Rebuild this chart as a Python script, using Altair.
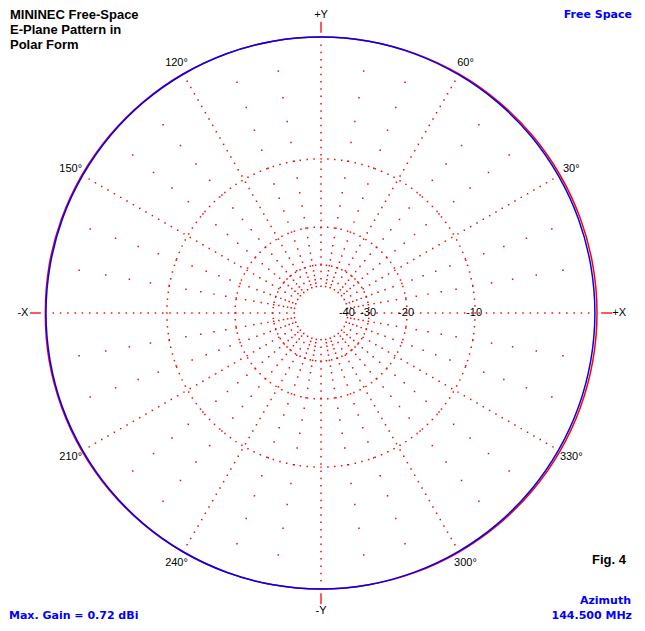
import altair as alt
import pandas as pd
import numpy as np

# ---------------- data ----------------
angles_deg = [0, 10, 20, 30, 40, 50, 60, 70, 80, 90, 100, 110, 120, 130, 140, 150, 160, 170,
              180, 190, 200, 210, 220, 230, 240, 250, 260, 270, 280, 290, 300, 310, 320, 330, 340, 350]
# outer (red) trace, dB relative to max gain
red_db = [0.00, 0.00, 0.00, 0.00, 0.00, 0.00, 0.00, 0.00, 0.00, 0.00, 0.00, 0.00,
          0.00, 0.00, 0.00, 0.00, 0.00, 0.00, -0.02, 0.00, 0.00, 0.00, 0.00, 0.00,
          0.00, 0.00, 0.00, 0.00, 0.00, 0.00, 0.00, 0.00, 0.00, 0.00, 0.00, 0.00]
# inner (blue) trace, dB relative to max gain
blue_db = [-0.13, -0.13, -0.12, -0.11, -0.09, -0.07, -0.05, -0.03, -0.01, 0.00, 0.00, -0.01,
           -0.02, -0.03, -0.04, -0.05, -0.05, -0.06, -0.06, -0.06, -0.05, -0.05, -0.04, -0.03,
           -0.02, -0.01, 0.00, 0.00, -0.01, -0.03, -0.05, -0.07, -0.09, -0.11, -0.12, -0.13]

ring_db = [-10, -20, -30, -40]
ring_txt = ["-10", "-20", "-30", "-40"]
ring_dots = [140, 80, 56, 36]

angle_label_deg = [30, 60, 120, 150, 210, 240, 300, 330]
angle_label_txt = ["30°", "60°", "120°", "150°", "210°", "240°", "300°", "330°"]
axis_label_deg = [0, 90, 180, 270]
axis_label_txt = ["+X", "+Y", "-X", "-Y"]

title_lines = ["MININEC Free-Space", "E-Plane Pattern in", "Polar Form"]
top_right_txt = "Free Space"
fig_txt = "Fig. 4"
gain_txt = "Max. Gain = 0.72 dBi"
right_bottom_lines = ["Azimuth", "144.500 MHz"]

# ---------------- layout ----------------
W, H = 629, 615
R = 276.0
CX, CY = 313.0, 305.0
xdom = [-CX / R, (W - CX) / R]
ydom = [-(H - CY) / R, CY / R]


def arrl(db):
    return 0.89 ** (-db / 2.0)


# grid dots (normalised radius r, angle ang)
rows = []
for db, n in zip(ring_db, ring_dots):
    for k in range(n):
        rows.append({"ang": k * 360.0 / n, "r": arrl(db)})
r0 = arrl(-40)
step = 7.3 / R
for a in range(0, 360, 30):
    k = 1
    while r0 + k * step < 0.995:
        rows.append({"ang": a, "r": r0 + k * step})
        k += 1
for a in range(0, 360, 10):
    if a % 30 == 0:
        continue
    for db in range(-2, -40, -2):
        rows.append({"ang": a, "r": arrl(db)})
grid_df = pd.DataFrame(rows)

pat_df = pd.DataFrame({"ang": angles_deg * 2,
                       "db": red_db + blue_db,
                       "trace": ["red"] * len(angles_deg) + ["blue"] * len(angles_deg)})

xs = alt.Scale(domain=xdom, nice=False, zero=False)
ys = alt.Scale(domain=ydom, nice=False, zero=False)
X = alt.X("x:Q", scale=xs, axis=None)
Y = alt.Y("y:Q", scale=ys, axis=None)

XY_CALC = dict(x="datum.r*cos(datum.ang*PI/180)", y="datum.r*sin(datum.ang*PI/180)")

grid = alt.Chart(grid_df).transform_calculate(**XY_CALC).mark_square(
    size=2.2, color="#ff0000", opacity=1, filled=True
).encode(x=X, y=Y)


def trace(color):
    return alt.Chart(pat_df).transform_filter(
        alt.datum.trace == color
    ).transform_calculate(
        r="pow(0.89, -datum.db/2)"
    ).transform_calculate(**XY_CALC).mark_line(
        interpolate="cardinal-closed", color="#ff0000" if color == "red" else "#0000ff",
        strokeWidth=1.5
    ).encode(x=X, y=Y, order="ang:Q")


red_line = trace("red")
blue_line = trace("blue")

stub_df = pd.DataFrame({"ang": axis_label_deg})
stubs = alt.Chart(stub_df).transform_calculate(
    x="1.015*cos(datum.ang*PI/180)", y="1.015*sin(datum.ang*PI/180)",
    x2="1.055*cos(datum.ang*PI/180)", y2="1.055*sin(datum.ang*PI/180)"
).mark_rule(color="#ff0000", strokeWidth=1.3).encode(
    x=X, y=Y, x2="x2:Q", y2="y2:Q"
)

ang_df = pd.DataFrame({"ang": angle_label_deg, "t": angle_label_txt})
ang_labels = alt.Chart(ang_df).transform_calculate(
    x="1.047*cos(datum.ang*PI/180)", y="1.047*sin(datum.ang*PI/180)"
).mark_text(font="Liberation Sans", fontSize=11, color="black", baseline="middle", align="center").encode(
    x=X, y=Y, text="t:N")

ax_df = pd.DataFrame({"ang": axis_label_deg, "t": axis_label_txt})
ax_labels = alt.Chart(ax_df).transform_calculate(
    x="1.08*cos(datum.ang*PI/180)", y="1.08*sin(datum.ang*PI/180)"
).mark_text(font="Liberation Sans", fontSize=11, color="black", baseline="middle", align="center").encode(
    x=X, y=Y, text="t:N")

db_df = pd.DataFrame({"db": ring_db, "t": ring_txt, "ang": [0] * len(ring_db)})
db_labels = alt.Chart(db_df).transform_calculate(
    r="pow(0.89, -datum.db/2)"
).transform_calculate(**XY_CALC).mark_text(
    font="Liberation Sans", fontSize=11, color="black", baseline="middle", align="center", dx=-1
).encode(x=X, y=Y, text="t:N")

one = pd.DataFrame({"k": [0]})


def note(txt, px, py, size, color, align="left", font="Liberation Sans"):
    return alt.Chart(one).mark_text(
        font=font, fontSize=size, fontWeight="bold", color=color, align=align, baseline="alphabetic"
    ).encode(x=alt.value(px), y=alt.value(py), text=alt.value(txt))


notes = [
    note(title_lines[0], 2, 11, 13, "black"),
    note(title_lines[1], 2, 26, 13, "black"),
    note(title_lines[2], 2, 41, 13, "black"),
    note(top_right_txt, 624, 10, 11, "#0000ff", "right", "DejaVu Sans"),
    note(fig_txt, 584, 556, 13, "black"),
    note(gain_txt, 1, 611, 11, "#0000ff", "left", "DejaVu Sans"),
    note(right_bottom_lines[0], 623, 596, 11, "#0000ff", "right", "DejaVu Sans"),
    note(right_bottom_lines[1], 624, 611, 11, "#0000ff", "right", "DejaVu Sans"),
]

chart = alt.layer(
    grid, red_line, blue_line, stubs, ang_labels, ax_labels, db_labels, *notes
).properties(
    width=W, height=H, padding=0, autosize=alt.AutoSizeParams(type="none"), background="white"
).configure_view(stroke=None)

chart.save("out.html", embed_options={"renderer": "svg", "actions": False})
